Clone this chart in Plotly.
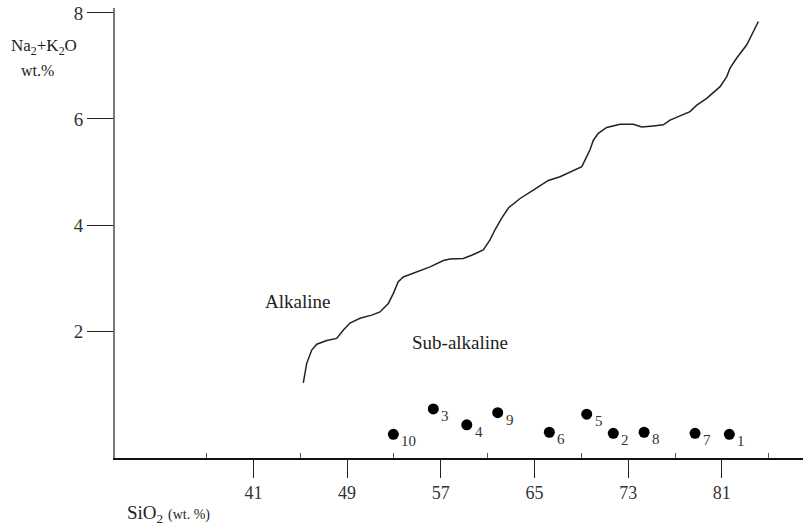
import plotly.graph_objects as go

# Boundary curve (alkaline / sub-alkaline divide)
curve_sio2 = [45.26, 45.55, 45.98, 46.41, 47.26, 48.11, 48.68, 49.25, 50.10, 51.10,
              51.81, 52.52, 52.95, 53.37, 53.80, 54.95, 56.08, 57.22, 57.79, 58.92,
              59.64, 60.63, 61.20, 61.63, 62.20, 62.77, 63.77, 64.90, 66.18, 67.18,
              68.18, 69.04, 69.46, 69.74, 70.03, 70.45, 71.17, 72.31, 73.44, 74.16,
              75.15, 76.00, 76.58, 77.43, 78.28, 78.86, 79.71, 80.85, 81.42, 81.70,
              82.27, 83.13, 83.69, 84.12]
curve_alk = [1.02, 1.39, 1.64, 1.75, 1.82, 1.86, 2.02, 2.15, 2.24, 2.30,
             2.36, 2.52, 2.71, 2.93, 3.02, 3.12, 3.21, 3.33, 3.36, 3.37,
             3.43, 3.53, 3.72, 3.91, 4.13, 4.32, 4.50, 4.66, 4.84, 4.91,
             5.01, 5.10, 5.29, 5.42, 5.60, 5.73, 5.84, 5.90, 5.90, 5.85,
             5.87, 5.89, 5.98, 6.06, 6.14, 6.26, 6.39, 6.61, 6.80, 6.96,
             7.15, 7.40, 7.65, 7.84]

# Samples
sample_ids = ["1", "2", "3", "4", "5", "6", "7", "8", "9", "10"]
sample_sio2 = [81.64, 71.73, 56.36, 59.22, 69.46, 66.27, 78.71, 74.36, 61.86, 52.95]
sample_alk = [0.05, 0.07, 0.53, 0.23, 0.43, 0.09, 0.07, 0.09, 0.46, 0.05]

x_ticks = [41, 49, 57, 65, 73, 81]
x_minor = [37, 45, 53, 61, 69, 77, 85, 89]
y_ticks = [2, 4, 6, 8]

field_labels = ["Alkaline", "Sub-alkaline"]
field_x = [44.8, 58.6]
field_y = [2.55, 1.79]

SERIF = "Liberation Serif"

fig = go.Figure()
fig.add_trace(go.Scatter(x=curve_sio2, y=curve_alk, mode="lines",
                         line=dict(color="#222222", width=1.5),
                         hoverinfo="skip", showlegend=False))
fig.add_trace(go.Scatter(x=sample_sio2, y=sample_alk, mode="markers",
                         marker=dict(color="black", size=11),
                         showlegend=False))

annotations = []
for sid, sx, sy in zip(sample_ids, sample_sio2, sample_alk):
    annotations.append(dict(x=sx, y=sy, xref="x", yref="y", text=sid, showarrow=False,
                            xanchor="left", yanchor="middle", xshift=6, yshift=-7,
                            font=dict(family=SERIF, size=15, color="#333333")))
for t, fx, fy in zip(field_labels, field_x, field_y):
    annotations.append(dict(x=fx, y=fy, xref="x", yref="y", text=t, showarrow=False,
                            xanchor="center", yanchor="middle",
                            font=dict(family=SERIF, size=19, color="#222222")))

annotations.append(dict(x=-0.103, y=0.913, xref="paper", yref="paper",
                        xanchor="center", yanchor="middle",
                        text="Na<sub>2</sub>+K<sub>2</sub>O", showarrow=False,
                        font=dict(family=SERIF, size=17, color="#222222")))
annotations.append(dict(x=-0.113, y=0.862, xref="paper", yref="paper",
                        xanchor="center", yanchor="middle",
                        text="wt.%", showarrow=False,
                        font=dict(family=SERIF, size=16, color="#222222")))
annotations.append(dict(x=0.015, y=-0.125, xref="paper", yref="paper",
                        xanchor="left", yanchor="middle",
                        text="SiO<sub>2</sub> <span style='font-size:14px'>(wt. %)</span>",
                        showarrow=False,
                        font=dict(family=SERIF, size=19, color="#222222")))

fig.update_layout(
    width=803, height=525,
    margin=dict(l=115, r=0, t=8, b=67),
    paper_bgcolor="white", plot_bgcolor="white",
    annotations=annotations,
    xaxis=dict(range=[29.18, 87.93], showgrid=False, zeroline=False,
               showline=True, linecolor="#111111", linewidth=1.5,
               tickmode="array", tickvals=x_ticks, ticks="outside", ticklen=18,
               tickcolor="#222222", tickwidth=1.2,
               tickfont=dict(family=SERIF, size=18, color="#333333"),
               minor=dict(tickmode="array", tickvals=x_minor, ticks="inside",
                          ticklen=5, tickcolor="#555555", tickwidth=1, showgrid=False)),
    yaxis=dict(range=[-0.396, 8.094], showgrid=False, zeroline=False,
               showline=True, linecolor="#777777", linewidth=2,
               tickmode="array", tickvals=y_ticks, ticks="outside", ticklen=26,
               tickcolor="#222222", tickwidth=1.2,
               tickfont=dict(family=SERIF, size=19, color="#333333")),
)

fig.write_html("out.html", config={"displayModeBar": False},
               post_script="document.body.style.margin='0';")
